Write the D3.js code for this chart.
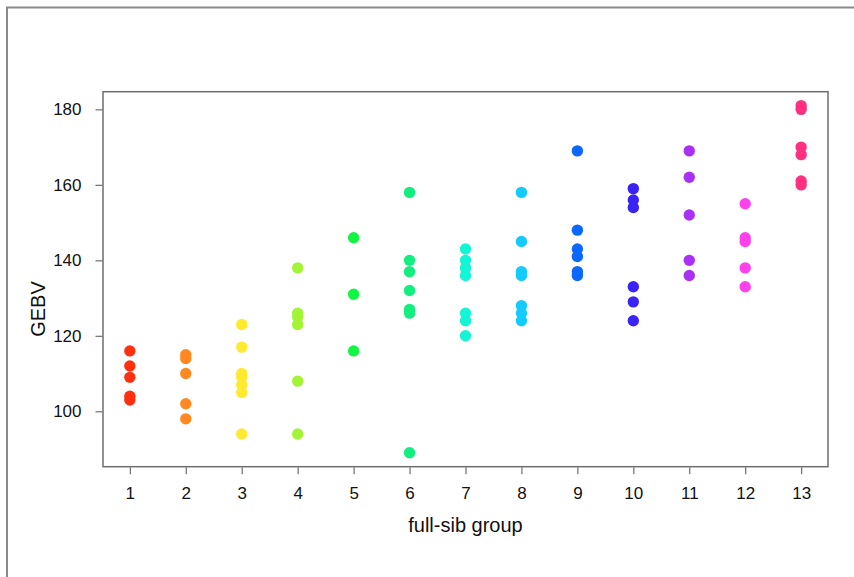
<!DOCTYPE html>
<html>
<head>
<meta charset="utf-8">
<script src="https://cdn.jsdelivr.net/npm/d3@7"></script>
<style>
  html, body { margin: 0; padding: 0; background: #fff; }
  svg { display: block; }
  text { font-family: "Liberation Sans", Arial, Helvetica, sans-serif; }
</style>
</head>
<body>
<svg id="chart" width="854" height="577"></svg>
<script>
// ---- data ----
const groups = [1, 2, 3, 4, 5, 6, 7, 8, 9, 10, 11, 12, 13];
const gebv = [
  [116, 112, 109, 104, 103],
  [115, 114, 110, 102, 98],
  [123, 117, 110, 109, 107, 105, 94],
  [138, 126, 125, 123, 108, 94],
  [146, 131, 116],
  [158, 140, 137, 132, 127, 126, 89],
  [143, 140, 138, 136, 126, 124, 120],
  [158, 145, 137, 136, 128, 126, 124],
  [169, 148, 143, 141, 137, 136],
  [159, 156, 154, 133, 129, 124],
  [169, 162, 152, 140, 136],
  [155, 146, 145, 138, 133],
  [181, 180, 170, 168, 161, 160]
];
const groupColors = ["#FF3010", "#FF8820", "#FFEA30", "#A2F535", "#12F542", "#12EF7E",
  "#12F6D6", "#12CCFF", "#0A68FF", "#3A24F5", "#AA30F5", "#FF40EC", "#FF3080"];
const yTicks = [100, 120, 140, 160, 180];
const xLabel = "full-sib group";
const yLabel = "GEBV";

// ---- layout ----
const svg = d3.select("#chart");
const pLeft = 103, pRight = 828, pTop = 91.7, pBottom = 466.7;

const x = d3.scaleLinear().domain([0.52, 13.48]).range([pLeft, pRight]);
const y = d3.scaleLinear().domain([85.32, 184.68]).range([pBottom, pTop]);

// outer frame
svg.append("path")
  .attr("d", `M7,577 L7,7.5 L854,7.5`)
  .attr("fill", "none").attr("stroke", "#8a8a8a").attr("stroke-width", 2);

// plot box
svg.append("rect")
  .attr("x", pLeft).attr("y", pTop)
  .attr("width", pRight - pLeft).attr("height", pBottom - pTop)
  .attr("fill", "none").attr("stroke", "#6e6e6e").attr("stroke-width", 1.5);

// x axis
const xAxis = d3.axisBottom(x).tickValues(groups).tickSize(7).tickPadding(13)
  .tickFormat(d3.format("d"));
const gx = svg.append("g").attr("transform", `translate(0,${pBottom + 0.5})`).call(xAxis);
gx.select(".domain").remove();
gx.selectAll(".tick line").attr("stroke", "#6e6e6e").attr("stroke-width", 1.2);
gx.selectAll(".tick text").attr("font-size", 17).attr("fill", "#111")
  .attr("font-family", "Liberation Sans, Arial, sans-serif");

// y axis
const yAxis = d3.axisLeft(y).tickValues(yTicks).tickSize(7).tickPadding(14)
  .tickFormat(d3.format("d"));
const gy = svg.append("g").attr("transform", `translate(${pLeft - 0.5},0)`).call(yAxis);
gy.select(".domain").remove();
gy.selectAll(".tick line").attr("stroke", "#6e6e6e").attr("stroke-width", 1.2);
gy.selectAll(".tick text").attr("font-size", 17).attr("fill", "#111")
  .attr("font-family", "Liberation Sans, Arial, sans-serif");

// axis titles
svg.append("text")
  .attr("x", (pLeft + pRight) / 2).attr("y", 532)
  .attr("text-anchor", "middle").attr("font-size", 20).attr("fill", "#111")
  .text(xLabel);
svg.append("text")
  .attr("transform", `translate(45,309) rotate(-90)`)
  .attr("text-anchor", "middle").attr("font-size", 20).attr("fill", "#111")
  .text(yLabel);

// points
const pts = [];
groups.forEach((g, i) => gebv[i].forEach(v => pts.push({ g, v, c: groupColors[i] })));
svg.append("g").selectAll("circle").data(pts).join("circle")
  .attr("cx", d => x(d.g))
  .attr("cy", d => y(d.v))
  .attr("r", 5.7)
  .attr("fill", d => d.c);
</script>
</body>
</html>
